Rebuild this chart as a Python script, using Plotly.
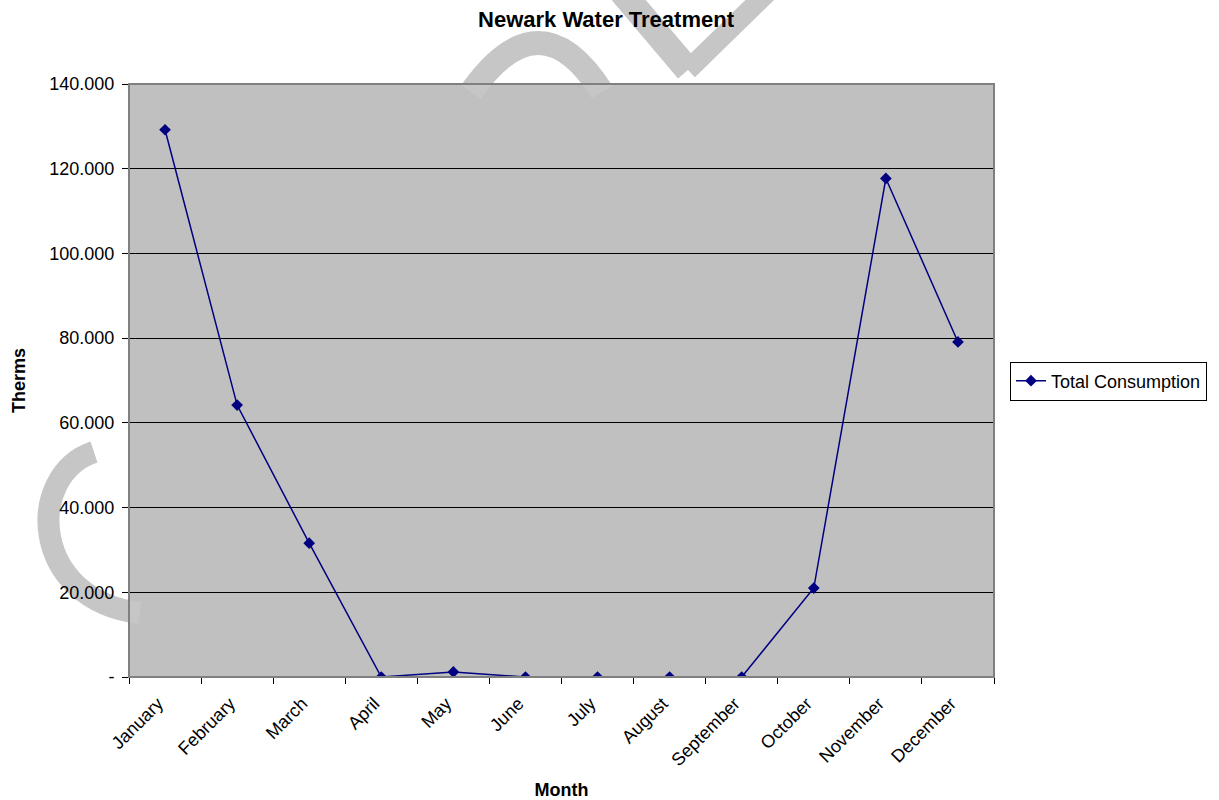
import plotly.graph_objects as go

months = ["January", "February", "March", "April", "May", "June", "July",
          "August", "September", "October", "November", "December"]
consumption = [129.2, 64.2, 31.6, 0.0, 1.2, 0.0, 0.0, 0.0, 0.0, 21.0, 117.7, 79.1]
y_ticks = [0, 20, 40, 60, 80, 100, 120, 140]
y_tick_labels = ["-", "20.000", "40.000", "60.000", "80.000", "100.000", "120.000", "140.000"]

FONT = "Liberation Sans, Arial, sans-serif"
L, R, T, B = 129, 994, 84, 677  # plot area in pixels


def px(x, y):
    return (x - L) / (R - L), (B - y) / (B - T)


def path(points_cmd):
    out = []
    for tok in points_cmd:
        if isinstance(tok, str):
            out.append(tok)
        else:
            x, y = px(*tok)
            out.append(f"{x:.4f},{y:.4f}")
    return " ".join(out)


fig = go.Figure()
fig.add_trace(go.Scatter(
    x=months, y=consumption, mode="lines+markers", name="Total Consumption",
    line=dict(color="#000080", width=1.5),
    marker=dict(symbol="diamond", size=9, color="#000080"),
))

fig.update_layout(
    width=1219, height=800,
    margin=dict(l=L, r=1219 - R, t=T, b=800 - B, autoexpand=False),
    paper_bgcolor="white", plot_bgcolor="#C0C0C0",
    font=dict(family=FONT, size=18, color="black"),
    title=dict(text="<b>Newark Water Treatment</b>", x=606 / 1219, xanchor="center",
               xref="container",
               y=1 - 19 / 800, yanchor="middle", font=dict(size=22)),
    showlegend=True,
    legend=dict(x=(1010 - L) / (R - L), y=(B - 381) / (B - T), xanchor="left", yanchor="middle",
                bordercolor="black", borderwidth=1, bgcolor="white",
                font=dict(size=18), itemwidth=30),
)

fig.update_xaxes(
    type="category", range=[-0.5, 11.5], tickangle=-45, automargin=False,
    tickson="boundaries", ticks="outside", ticklen=6, tickcolor="black",
    ticklabelstandoff=8, ticklabelshift=-7,
    showline=True, linecolor="black", linewidth=1, showgrid=False,
    title=dict(text="<b>Month</b>", font=dict(size=18), standoff=22),
)
fig.update_yaxes(
    range=[0, 140], tickvals=y_ticks, ticktext=y_tick_labels, automargin=False,
    ticks="outside", ticklen=6, tickcolor="black",
    ticklabelstandoff=4,
    showline=True, linecolor="black", linewidth=1,
    showgrid=True, gridcolor="black", gridwidth=1,
    zeroline=False,
    title=dict(text="<b>Therms</b>", font=dict(size=18), standoff=19),
)

# plot area border (gray)
fig.add_shape(type="rect", xref="paper", yref="paper", x0=0, y0=0, x1=1, y1=1,
              line=dict(color="#808080", width=2), layer="above", fillcolor="rgba(0,0,0,0)")

# faint watermark strokes (hidden inside the plot area, like the reference)
WM = "#C6C6C6"
wm_paths = [
    (["M", (471, 92), "Q", (540, -6), (602, 92)], 24),
    (["M", (622, -8), "L", (688, 70)], 26),
    (["M", (688, 70), "L", (768, -8)], 20),
    (["M", (94, 452), "C", (25, 475), (30, 600), (140, 613)], 22),
]
for cmds, w in wm_paths:
    fig.add_shape(type="path", xref="paper", yref="paper", path=path(cmds),
                  line=dict(color=WM, width=w), layer="below")

fig.write_html("out.html")
